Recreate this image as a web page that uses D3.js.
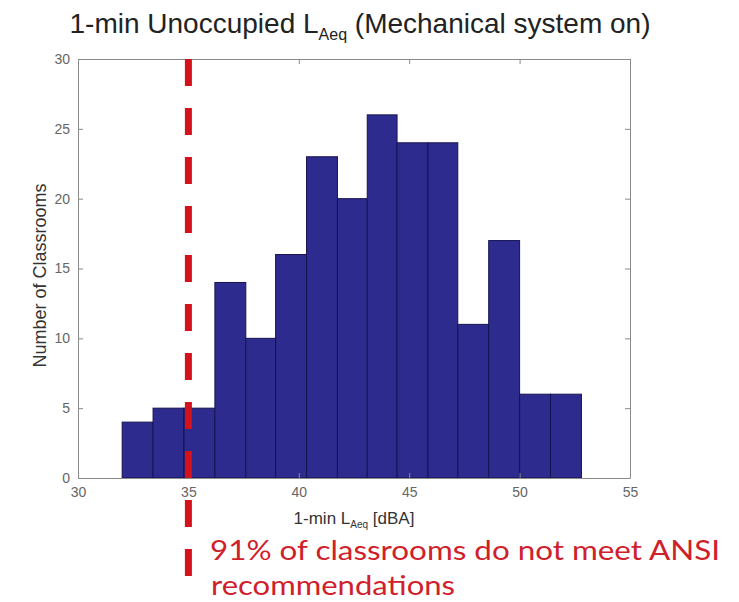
<!DOCTYPE html>
<html>
<head>
<meta charset="utf-8">
<script src="https://cdn.jsdelivr.net/npm/d3@7"></script>
<style>
  body { margin: 0; background: #fff; }
  svg { display: block; }
</style>
</head>
<body>
<svg id="chart"></svg>
<script>
(function() {

    // Histogram bins (edges in dBA, counts of classrooms)
    const binEdges = [32.0, 33.4, 34.8, 36.2, 37.6, 38.95, 40.35, 41.75, 43.1, 44.45, 45.85, 47.2, 48.6, 50.0, 51.4, 52.8];
    const counts = [4, 5, 5, 14, 10, 16, 23, 20, 26, 24, 24, 11, 17, 6, 6];
    const xTicks = [30, 35, 40, 45, 50, 55];
    const yTicks = [0, 5, 10, 15, 20, 25, 30];
    const ansiLimit = 35;

    const w = 739;
    const h = 602;
    const margin = { left: 78, right: 109, top: 59, bottom: 124 };

    const svg = d3.select('#chart')
        .attr('width', w)
        .attr('height', h);

    const x = d3.scaleLinear()
        .domain([30, 55])
        .range([margin.left, w - margin.right]);

    const y = d3.scaleLinear()
        .domain([0, 30])
        .range([h - margin.bottom, margin.top]);

    const bins = counts.map((c, i) => ({ x0: binEdges[i], x1: binEdges[i + 1], count: c }));

    // bars
    svg.append('g')
        .selectAll('rect')
        .data(bins)
        .enter()
        .append('rect')
        .attr('x', d => x(d.x0))
        .attr('y', d => y(d.count))
        .attr('width', d => x(d.x1) - x(d.x0))
        .attr('height', d => y(0) - y(d.count))
        .attr('fill', '#2e2b8e')
        .attr('stroke', '#161350')
        .attr('stroke-width', 1);

    // axes (MATLAB style: ticks inside, box all round)
    const axisColor = '#8a8a8a';
    const tickFont = '"Liberation Sans", Arial, sans-serif';

    const xAxis = svg.append('g')
        .attr('transform', `translate(0, ${y(0)})`)
        .call(d3.axisBottom(x).tickValues(xTicks).tickSizeInner(-5).tickSizeOuter(0).tickPadding(9));

    const yAxis = svg.append('g')
        .attr('transform', `translate(${x(30)}, 0)`)
        .call(d3.axisLeft(y).tickValues(yTicks).tickSizeInner(-5).tickSizeOuter(0).tickPadding(8));

    const yAxisRight = svg.append('g')
        .attr('transform', `translate(${x(55)}, 0)`)
        .call(d3.axisRight(y).tickValues(yTicks).tickSizeInner(-5).tickSizeOuter(0).tickFormat(''));

    const xAxisTop = svg.append('g')
        .attr('transform', `translate(0, ${y(30)})`)
        .call(d3.axisTop(x).tickValues(xTicks).tickSizeInner(-5).tickSizeOuter(0).tickFormat(''));

    [xAxis, yAxis, yAxisRight, xAxisTop].forEach(g => {
        g.select('.domain').attr('stroke', axisColor);
        g.selectAll('.tick line').attr('stroke', axisColor);
        g.selectAll('.tick text')
            .attr('fill', '#666')
            .style('font-family', tickFont)
            .style('font-size', '14px');
    });

    // title
    const title = svg.append('text')
        .attr('x', 360)
        .attr('y', 33)
        .attr('text-anchor', 'middle')
        .attr('fill', '#222')
        .style('font-family', tickFont)
        .style('font-size', '28px');
    title.append('tspan').text('1-min Unoccupied L');
    title.append('tspan').attr('dy', 7).style('font-size', '16px').text('Aeq');
    title.append('tspan').attr('dy', -7).text(' (Mechanical system on)');

    // y label
    svg.append('text')
        .attr('transform', `translate(46, ${(y(0) + y(30)) / 2 + 7}) rotate(-90)`)
        .attr('text-anchor', 'middle')
        .attr('fill', '#333')
        .style('font-family', tickFont)
        .style('font-size', '18px')
        .text('Number of Classrooms');

    // x label
    const xLabel = svg.append('text')
        .attr('x', 354)
        .attr('y', 524)
        .attr('text-anchor', 'middle')
        .attr('fill', '#333')
        .style('font-family', tickFont)
        .style('font-size', '17px');
    xLabel.append('tspan').text('1-min L');
    xLabel.append('tspan').attr('dy', 4).style('font-size', '10px').text('Aeq');
    xLabel.append('tspan').attr('dy', -4).text(' [dBA]');

    // ANSI limit line
    svg.append('line')
        .attr('x1', x(ansiLimit))
        .attr('x2', x(ansiLimit))
        .attr('y1', y(30))
        .attr('y2', 578)
        .attr('stroke', '#d4121c')
        .attr('stroke-width', 7)
        .attr('stroke-dasharray', '27 22');

    // annotation
    const noteFont = 'Lato, "Open Sans", sans-serif';
    svg.append('text')
        .attr('x', 210)
        .attr('y', 560)
        .attr('fill', '#d0202a')
        .attr('textLength', 510)
        .attr('lengthAdjust', 'spacingAndGlyphs')
        .style('font-family', noteFont)
        .style('font-size', '27px')
        .text('91% of classrooms do not meet ANSI');
    svg.append('text')
        .attr('x', 211)
        .attr('y', 595)
        .attr('fill', '#d0202a')
        .attr('textLength', 244)
        .attr('lengthAdjust', 'spacingAndGlyphs')
        .style('font-family', noteFont)
        .style('font-size', '27px')
        .text('recommendations');

})();
</script>
</body>
</html>
